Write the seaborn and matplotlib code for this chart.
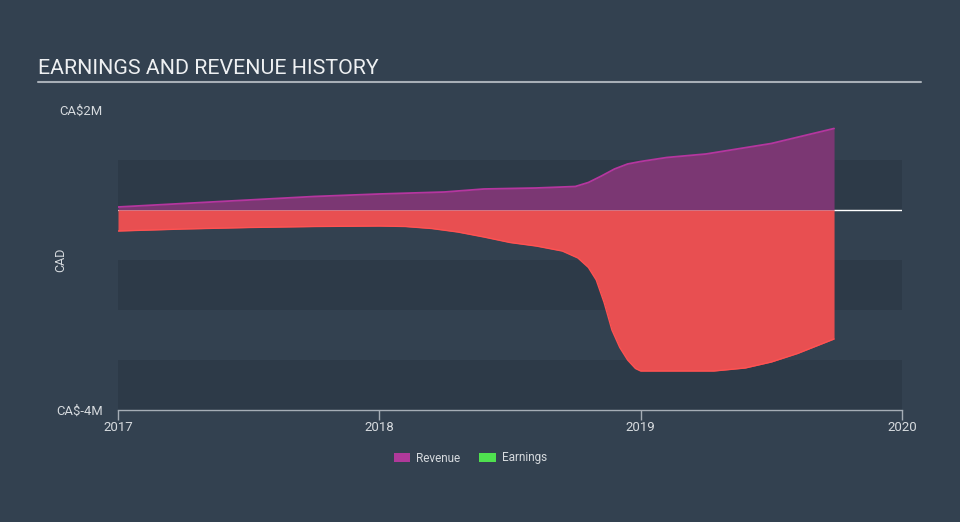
import matplotlib
matplotlib.use("Agg")
import matplotlib.pyplot as plt
from matplotlib.patches import Patch
import seaborn as sns
import pandas as pd
import numpy as np

# Data (values in CA$ millions, time in decimal years)
rev_years = [2017.0, 2017.25, 2017.5, 2017.75, 2018.0, 2018.25, 2018.4, 2018.6, 2018.75,
             2018.8, 2018.85, 2018.9, 2018.95, 2019.0, 2019.1, 2019.25, 2019.5, 2019.74]
rev_vals = [0.06, 0.13, 0.2, 0.27, 0.32, 0.36, 0.42, 0.44, 0.47,
            0.55, 0.68, 0.82, 0.92, 0.97, 1.05, 1.12, 1.33, 1.63]

earn_years = [2017.0, 2017.25, 2017.5, 2017.75, 2018.0, 2018.1, 2018.2, 2018.3, 2018.4,
              2018.5, 2018.6, 2018.7, 2018.76, 2018.8, 2018.83, 2018.86, 2018.89, 2018.92,
              2018.95, 2018.98, 2019.0, 2019.28, 2019.4, 2019.5, 2019.6, 2019.74]
earn_vals = [-0.42, -0.38, -0.35, -0.33, -0.32, -0.33, -0.37, -0.44, -0.54,
             -0.65, -0.72, -0.82, -0.96, -1.15, -1.4, -1.85, -2.4, -2.75,
             -3.0, -3.17, -3.22, -3.22, -3.16, -3.04, -2.87, -2.58]

title = "EARNINGS AND REVENUE HISTORY"
x_ticks = [2017, 2018, 2019, 2020]
y_ticks = [-4, 2]
y_labels = ["CA$-4M", "CA$2M"]

BG = "#334150"
BAND = "#2d3a48"
TXT = "#d6dade"
REV_LINE = "#b5369f"
REV_FILL = "#7b3773"
EARN_LINE = "#ff5252"
EARN_FILL = "#e84f51"

sns.set_theme(style="dark")
plt.rcParams['font.family'] = ['Roboto', 'DejaVu Sans']

fig = plt.figure(figsize=(9.6, 5.22), dpi=100, facecolor=BG)
ax = fig.add_axes([118/960, 1-410/522, (902-118)/960, 300/522])
ax.set_facecolor(BG)

# bands
for lo in (-4, -2, 0):
    ax.axhspan(lo, lo+1, color=BAND, zorder=0, lw=0)

ax.axhline(0, color="white", lw=1, zorder=1)

rev_df = pd.DataFrame({"year": rev_years, "value": rev_vals})
earn_df = pd.DataFrame({"year": earn_years, "value": earn_vals})

ax.fill_between(rev_df["year"], 0, rev_df["value"], color=REV_FILL, lw=0, zorder=2)
ax.fill_between(earn_df["year"], 0, earn_df["value"], color=EARN_FILL, lw=0, zorder=2)
sns.lineplot(data=rev_df, x="year", y="value", ax=ax, color=REV_LINE, lw=1.3, zorder=3)
sns.lineplot(data=earn_df, x="year", y="value", ax=ax, color=EARN_LINE, lw=1.0, zorder=3)

ax.set_xlim(2017, 2020)
ax.set_ylim(-4, 2)
ax.set_xticks(x_ticks)
ax.set_xticklabels([str(t) for t in x_ticks], color=TXT, fontsize=9.5)
ax.set_yticks(y_ticks)
ax.set_yticklabels(y_labels, color=TXT, fontsize=9.4)
ax.tick_params(axis="y", length=0, pad=11)
ax.tick_params(axis="x", length=7, width=1, color="#a5adb6", pad=1, direction="out", bottom=True)
ax.set_xlabel("")
ax.set_ylabel("CAD", color=TXT, fontsize=9)
ax.yaxis.set_label_coords((67-118)/784, 0.5)
ax.grid(False)
for s in ("top", "right", "left"):
    ax.spines[s].set_visible(False)
ax.spines["bottom"].set_color("#a5adb6")
ax.spines["bottom"].set_linewidth(1)

# Title and underline
fig.text(38/960, 1-68/522, title, color="#eef0f2", fontsize=15.4, va="center", ha="left")
fig.add_artist(plt.Line2D([38/960, 921/960], [1-82/522, 1-82/522], color="#a8afb7", lw=1.5))

# Legend
handles = [Patch(facecolor="#b0399a", edgecolor="none", label="Revenue"),
           Patch(facecolor="#4fe04f", edgecolor="none", label="Earnings")]
leg = fig.legend(handles=handles, loc="center", bbox_to_anchor=(0.49, 1-458/522), ncol=2,
                 frameon=False, fontsize=8.5, handlelength=1.4, handleheight=0.9,
                 columnspacing=1.6, handletextpad=0.5)
for t in leg.get_texts():
    t.set_color(TXT)

fig.savefig("out.png", dpi=100, facecolor=BG)
